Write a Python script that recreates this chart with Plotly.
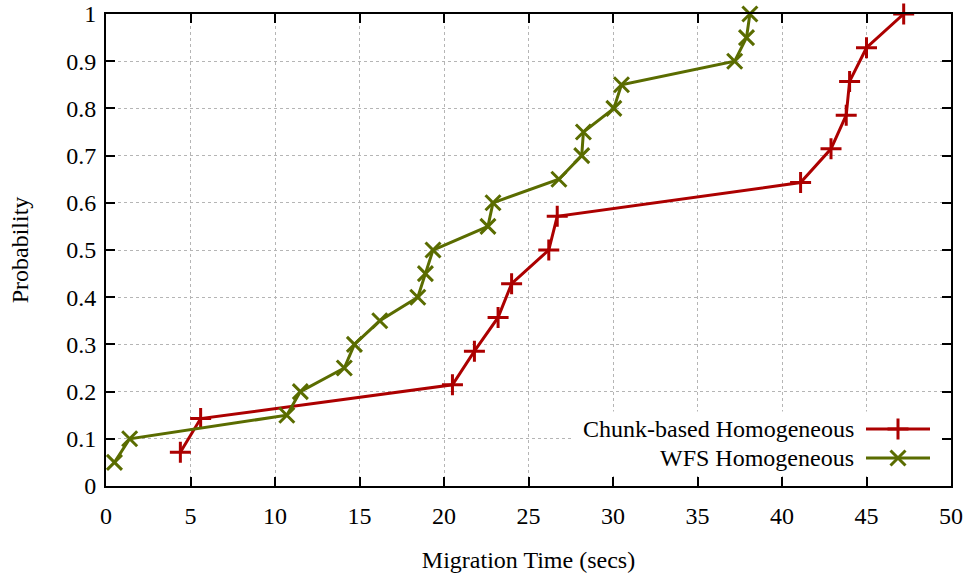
import plotly.graph_objects as go

chunk_x = [4.4, 5.6, 20.5, 21.8, 23.2, 24.0, 26.2, 26.7, 41.1, 42.9, 43.8, 44.0, 45.0, 47.2]
chunk_y = [1/14, 2/14, 3/14, 4/14, 5/14, 6/14, 7/14, 8/14, 9/14, 10/14, 11/14, 12/14, 13/14, 14/14]

wfs_x = [0.5, 1.4, 10.7, 11.5, 14.1, 14.7, 16.2, 18.45, 18.9, 19.35,
         22.6, 22.9, 26.8, 28.15, 28.25, 30.05, 30.5, 37.2, 37.9, 38.1]
wfs_y = [0.05, 0.10, 0.15, 0.20, 0.25, 0.30, 0.35, 0.40, 0.45, 0.50,
         0.55, 0.60, 0.65, 0.70, 0.75, 0.80, 0.85, 0.90, 0.95, 1.00]

series_names = ["Chunk-based Homogeneous", "WFS Homogeneous"]
x_ticks = [0, 5, 10, 15, 20, 25, 30, 35, 40, 45, 50]
y_ticks = [0, 0.1, 0.2, 0.3, 0.4, 0.5, 0.6, 0.7, 0.8, 0.9, 1]
y_tick_text = ["0", "0.1", "0.2", "0.3", "0.4", "0.5", "0.6", "0.7", "0.8", "0.9", "1"]

RED = "#ac0000"
GREEN = "#5a6c00"
FONT = "Times New Roman, Liberation Serif, DejaVu Serif, serif"
FS = 24

red_marker = dict(symbol="cross-thin-open", size=15, color=RED, line=dict(color=RED, width=3))
green_marker = dict(symbol="x-thin-open", size=15, color=GREEN, line=dict(color=GREEN, width=3))

fig = go.Figure()
fig.add_trace(go.Scatter(
    x=chunk_x, y=chunk_y, mode="lines+markers", name=series_names[0],
    line=dict(color=RED, width=3), marker=red_marker,
    showlegend=False, cliponaxis=False))
fig.add_trace(go.Scatter(
    x=wfs_x, y=wfs_y, mode="lines+markers", name=series_names[1],
    line=dict(color=GREEN, width=3), marker=green_marker,
    showlegend=False, cliponaxis=False))

# legend samples on an overlay pixel-like axis
leg_x = [760, 792, 824]
fig.add_trace(go.Scatter(x=leg_x, y=[57, 57, 57], mode="lines", xaxis="x2", yaxis="y2",
                         line=dict(color=RED, width=3), showlegend=False, hoverinfo="skip"))
fig.add_trace(go.Scatter(x=[792], y=[57], mode="markers", xaxis="x2", yaxis="y2",
                         marker=red_marker, showlegend=False, hoverinfo="skip"))
fig.add_trace(go.Scatter(x=leg_x, y=[28, 28, 28], mode="lines", xaxis="x2", yaxis="y2",
                         line=dict(color=GREEN, width=3), showlegend=False, hoverinfo="skip"))
fig.add_trace(go.Scatter(x=[792], y=[28], mode="markers", xaxis="x2", yaxis="y2",
                         marker=green_marker, showlegend=False, hoverinfo="skip"))

axis_common = dict(
    showline=True, linecolor="black", linewidth=2, mirror="ticks",
    ticks="inside", ticklen=9, tickwidth=1.5, tickcolor="black",
    showgrid=True, gridcolor="#b5b5b5", griddash="dot", gridwidth=1,
    zeroline=False, automargin=False,
    tickfont=dict(family=FONT, size=FS, color="black"),
)

fig.update_layout(
    width=969, height=573,
    margin=dict(l=106, r=18, t=14, b=87),
    paper_bgcolor="white", plot_bgcolor="white",
    font=dict(family=FONT, color="black"),
    xaxis=dict(range=[0, 50], tickvals=x_ticks, ticklabelstandoff=7,
               title=dict(text="Migration Time (secs)", font=dict(family=FONT, size=FS), standoff=25),
               **axis_common),
    yaxis=dict(range=[0, 1], tickvals=y_ticks, ticktext=y_tick_text, ticklabelstandoff=3,
               title=dict(text="Probability", font=dict(family=FONT, size=FS), standoff=31),
               **axis_common),
    xaxis2=dict(range=[0, 845], overlaying="x", anchor="y2", visible=False, fixedrange=True),
    yaxis2=dict(range=[0, 472], overlaying="y", anchor="x2", visible=False, fixedrange=True),
    showlegend=False,
)

# white legend box hiding the grid (in main-axis coordinates)
fig.add_shape(type="rect", xref="x", yref="y", x0=27.6, x1=49.6, y0=0.025, y1=0.158,
              fillcolor="white", line=dict(width=0), layer="between")

fig.add_annotation(x=0.888, y=57/472, xref="paper", yref="paper", text=series_names[0],
                   showarrow=False, xanchor="right", yanchor="middle",
                   font=dict(family=FONT, size=FS, color="black"))
fig.add_annotation(x=0.888, y=28/472, xref="paper", yref="paper", text=series_names[1],
                   showarrow=False, xanchor="right", yanchor="middle",
                   font=dict(family=FONT, size=FS, color="black"))

fig.write_html("out.html")
